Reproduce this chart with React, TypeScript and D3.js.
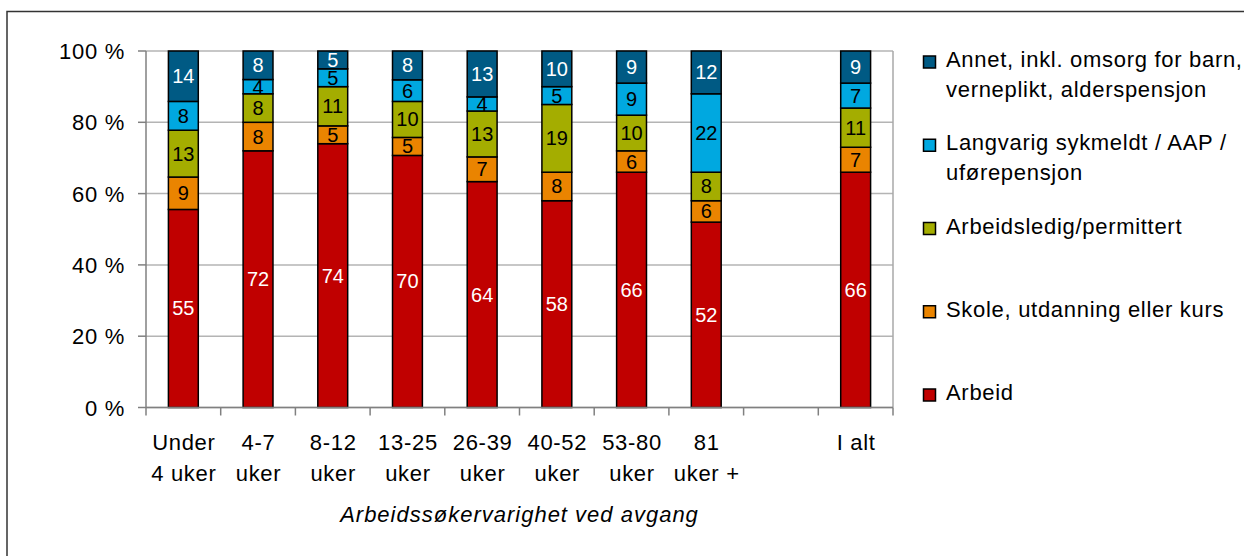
import React from 'react';
import * as d3 from 'd3';

// durations (the empty slot keeps the gap before "I alt")
const categories = ['Under 4 uker', '4-7 uker', '8-12 uker', '13-25 uker', '26-39 uker', '40-52 uker', '53-80 uker', '81 uker +', '', 'I alt'];
const categoryLines = [['Under', '4 uker'], ['4-7', 'uker'], ['8-12', 'uker'], ['13-25', 'uker'], ['26-39', 'uker'], ['40-52', 'uker'], ['53-80', 'uker'], ['81', 'uker +'], [], ['I alt']];

const seriesNames = ['Arbeid', 'Skole, utdanning eller kurs', 'Arbeidsledig/permittert', 'Langvarig sykmeldt / AAP / uførepensjon', 'Annet, inkl. omsorg for barn, verneplikt, alderspensjon'];
const legendLines = [['Arbeid'], ['Skole, utdanning eller kurs'], ['Arbeidsledig/permittert'], ['Langvarig sykmeldt / AAP /', 'uførepensjon'], ['Annet, inkl. omsorg for barn,', 'verneplikt, alderspensjon']];
const colors = ['#C00000', '#EA8400', '#A4AD00', '#00A8E0', '#005A84'];
const labelColors = ['#fff', '#000', '#000', '#000', '#fff'];

const arbeid = [55, 72, 74, 70, 64, 58, 66, 52, 0, 66];
const skole = [9, 8, 5, 5, 7, 8, 6, 6, 0, 7];
const arbeidsledig = [13, 8, 11, 10, 13, 19, 10, 8, 0, 11];
const langvarig = [8, 4, 5, 6, 4, 5, 9, 22, 0, 7];
const annet = [14, 8, 5, 8, 13, 10, 9, 12, 0, 9];

const yTicks = [0, 20, 40, 60, 80, 100];
const axisTitle = 'Arbeidssøkervarighet ved avgang';

const font = '"Liberation Sans", Arial, sans-serif';

export default function App() {
  const width = 1244;
  const height = 556;
  const plot = { left: 146, right: 893, top: 51, bottom: 407.5 };

  const values = [arbeid, skole, arbeidsledig, langvarig, annet];
  const rows = categories.map((c, i) => {
    const r: any = { cat: c };
    seriesNames.forEach((s, j) => (r[s] = values[j][i]));
    return r;
  });
  const stacked = d3.stack().keys(seriesNames).offset(d3.stackOffsetExpand)(rows);

  const x = d3.scaleBand().domain(categories.map((c, i) => String(i))).range([plot.left, plot.right]).paddingInner(0).paddingOuter(0);
  const barW = x.bandwidth() / 2.5;
  const y = d3.scaleLinear().domain([0, 1]).range([plot.bottom, plot.top]);
  const legendY = d3.scaleLinear().domain([4, 0]).range([67, 400]);
  const mid = (i: number) => (x(String(i)) as number) + x.bandwidth() / 2;

  return (
    <svg width={width} height={height} style={{ position: 'absolute', left: 0, top: 0, background: '#fff' }} fontFamily={font}>
      <rect x={7} y={11.5} width={1250} height={560} fill="#fff" stroke="#333" strokeWidth={1.5} />

      {/* gridlines */}
      {yTicks.map(t => (
        <line key={t} x1={plot.left} x2={plot.right} y1={y(t / 100)} y2={y(t / 100)} stroke="#b4b4b4" strokeWidth={1.5} />
      ))}
      <line x1={plot.right} x2={plot.right} y1={plot.top} y2={plot.bottom} stroke="#a8a8a8" strokeWidth={1.5} />

      {/* bars */}
      {stacked.map((layer, si) => (
        <g key={layer.key}>
          {layer.map((d, ci) =>
            d[1] - d[0] <= 0 ? null : (
              <rect key={ci} x={mid(ci) - barW / 2} y={y(d[1])} width={barW} height={y(d[0]) - y(d[1])} fill={colors[si]} stroke="#000" strokeWidth={1.5} />
            )
          )}
        </g>
      ))}
      {stacked.map((layer, si) => (
        <g key={'l' + layer.key}>
          {layer.map((d, ci) =>
            d[1] - d[0] <= 0 ? null : (
              <text key={ci} x={mid(ci)} y={(y(d[0]) + y(d[1])) / 2 + 7} textAnchor="middle" fontSize={20} fill={labelColors[si]}>
                {values[si][ci]}
              </text>
            )
          )}
        </g>
      ))}

      {/* y axis */}
      <line x1={plot.left} x2={plot.left} y1={plot.top} y2={plot.bottom} stroke="#808080" strokeWidth={1.5} />
      {yTicks.map(t => (
        <g key={t}>
          <line x1={plot.left - 8} x2={plot.left} y1={y(t / 100)} y2={y(t / 100)} stroke="#808080" strokeWidth={1.5} />
          <text x={125} y={y(t / 100) + 8} textAnchor="end" fontSize={22} letterSpacing={0.7}>
            {t} %
          </text>
        </g>
      ))}

      {/* x axis */}
      <line x1={plot.left} x2={plot.right} y1={plot.bottom} y2={plot.bottom} stroke="#808080" strokeWidth={1.5} />
      {categories.map((c, i) => (
        <line key={'t' + i} x1={x(String(i))} x2={x(String(i))} y1={plot.bottom} y2={plot.bottom + 8} stroke="#808080" strokeWidth={1.5} />
      ))}
      <line x1={plot.right} x2={plot.right} y1={plot.bottom} y2={plot.bottom + 8} stroke="#808080" strokeWidth={1.5} />
      {categoryLines.map((lines, i) => (
        <text key={'c' + i} x={mid(i)} y={450} textAnchor="middle" fontSize={22} letterSpacing={0.7}>
          {lines.map((l, k) => (
            <tspan key={k} x={mid(i) + 0.5} dy={k === 0 ? 0 : 31}>
              {l}
            </tspan>
          ))}
        </text>
      ))}
      <text x={(plot.left + plot.right) / 2} y={522} textAnchor="middle" fontSize={22} fontStyle="italic" letterSpacing={1}>
        {axisTitle}
      </text>

      {/* legend, top entry is the last series */}
      {legendLines.map((lines, si) => (
        <g key={'lg' + si}>
          <rect x={923.5} y={legendY(si) - 11} width={12} height={12} fill={colors[si]} stroke="#000" strokeWidth={1.5} />
          <text x={946} y={legendY(si)} fontSize={22} letterSpacing={0.7}>
            {lines.map((l, k) => (
              <tspan key={k} x={946} dy={k === 0 ? 0 : 29.5}>
                {l}
              </tspan>
            ))}
          </text>
        </g>
      ))}
    </svg>
  );
}
